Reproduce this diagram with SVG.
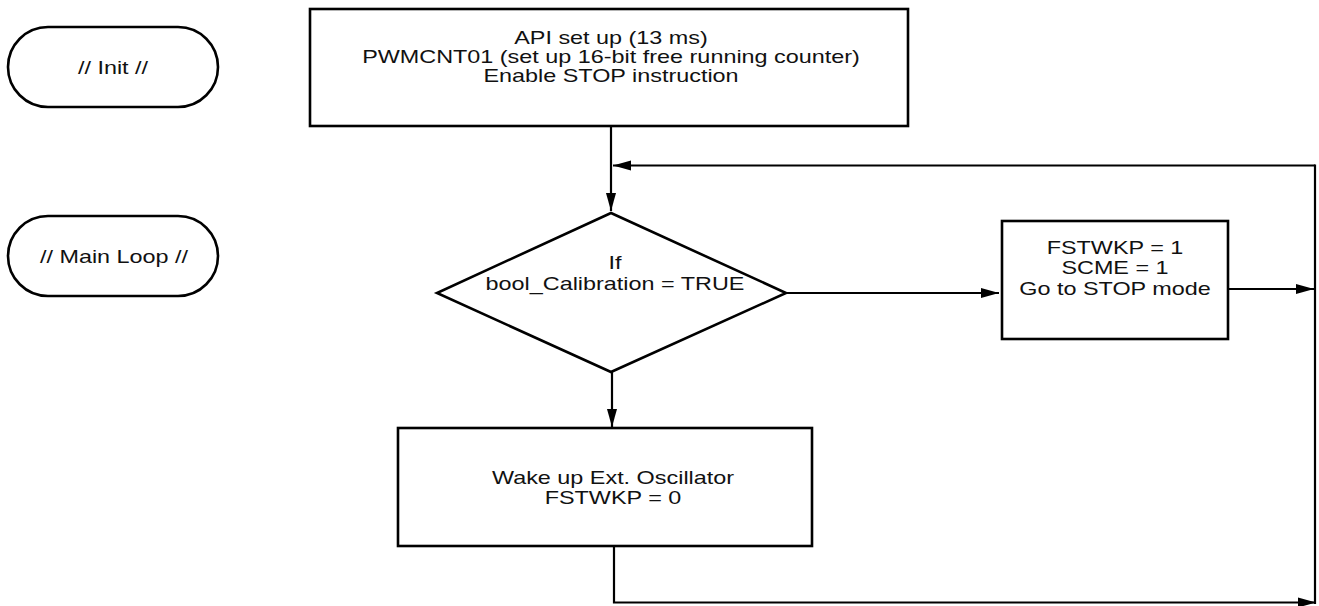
<svg xmlns="http://www.w3.org/2000/svg" width="1319" height="606" viewBox="0 0 1319 606">
<style>
.s{fill:#fff;stroke:#000;stroke-width:2.6}
.t{font-family:"Liberation Sans",Arial,Helvetica,sans-serif;font-size:18px;fill:#111;text-anchor:middle}
.c{fill:none;stroke:#000;stroke-width:2.2}
</style>
<defs>
<marker id="a" viewBox="0 0 18 12" refX="18" refY="6" markerWidth="18" markerHeight="12" markerUnits="userSpaceOnUse" orient="auto">
<path d="M0,1 L18,6 L0,11 z" fill="#000"/>
</marker>
</defs>
<rect width="1319" height="606" fill="#fff"/>
<g id="init">
<rect class="s" x="8" y="27" width="210" height="80" rx="40"/>
<g transform="translate(113,0) scale(1.3,1)"><text class="t" x="0" y="74">// Init //</text></g>
</g>
<g id="mainloop">
<rect class="s" x="8" y="216" width="210" height="80" rx="40"/>
<g transform="translate(114,0) scale(1.3,1)"><text class="t" x="0" y="263">// Main Loop //</text></g>
</g>
<g id="setup">
<rect class="s" x="310" y="9" width="598" height="117"/>
<g transform="translate(611,0) scale(1.3,1)">
<text class="t" x="0" y="44.5">API set up (13 ms)</text>
<text class="t" x="0" y="63.5">PWMCNT01 (set up 16-bit free running counter)</text>
<text class="t" x="0" y="82.5">Enable STOP instruction</text>
</g>
</g>
<g id="decision">
<polygon class="s" points="611,213 786,293 611,372 437,293"/>
<g transform="translate(615,0) scale(1.3,1)">
<text class="t" x="0" y="269.5">If</text>
<text class="t" x="0" y="290.5">bool_Calibration = TRUE</text>
</g>
</g>
<g id="stop">
<rect class="s" x="1002" y="221" width="226" height="118"/>
<g transform="translate(1115,0) scale(1.3,1)">
<text class="t" x="0" y="254.5">FSTWKP = 1</text>
<text class="t" x="0" y="274.5">SCME = 1</text>
<text class="t" x="0" y="295.5">Go to STOP mode</text>
</g>
</g>
<g id="wake">
<rect class="s" x="398" y="428" width="414" height="118"/>
<g transform="translate(613,0) scale(1.3,1)">
<text class="t" x="0" y="484.5">Wake up Ext. Oscillator</text>
<text class="t" x="0" y="504.5">FSTWKP = 0</text>
</g>
</g>
<g id="connectors">
<path class="c" d="M611,126 V211" marker-end="url(#a)"/>
<path class="c" d="M1315,165.5 H613" marker-end="url(#a)"/>
<path class="c" d="M1315,164.4 V604"/>
<path class="c" d="M786,293 H999" marker-end="url(#a)"/>
<path class="c" d="M1228,289 H1314" marker-end="url(#a)"/>
<path class="c" d="M612,372 V427" marker-end="url(#a)"/>
<path class="c" d="M614,546 V602.5 H1316" marker-end="url(#a)"/>
</g>
</svg>
